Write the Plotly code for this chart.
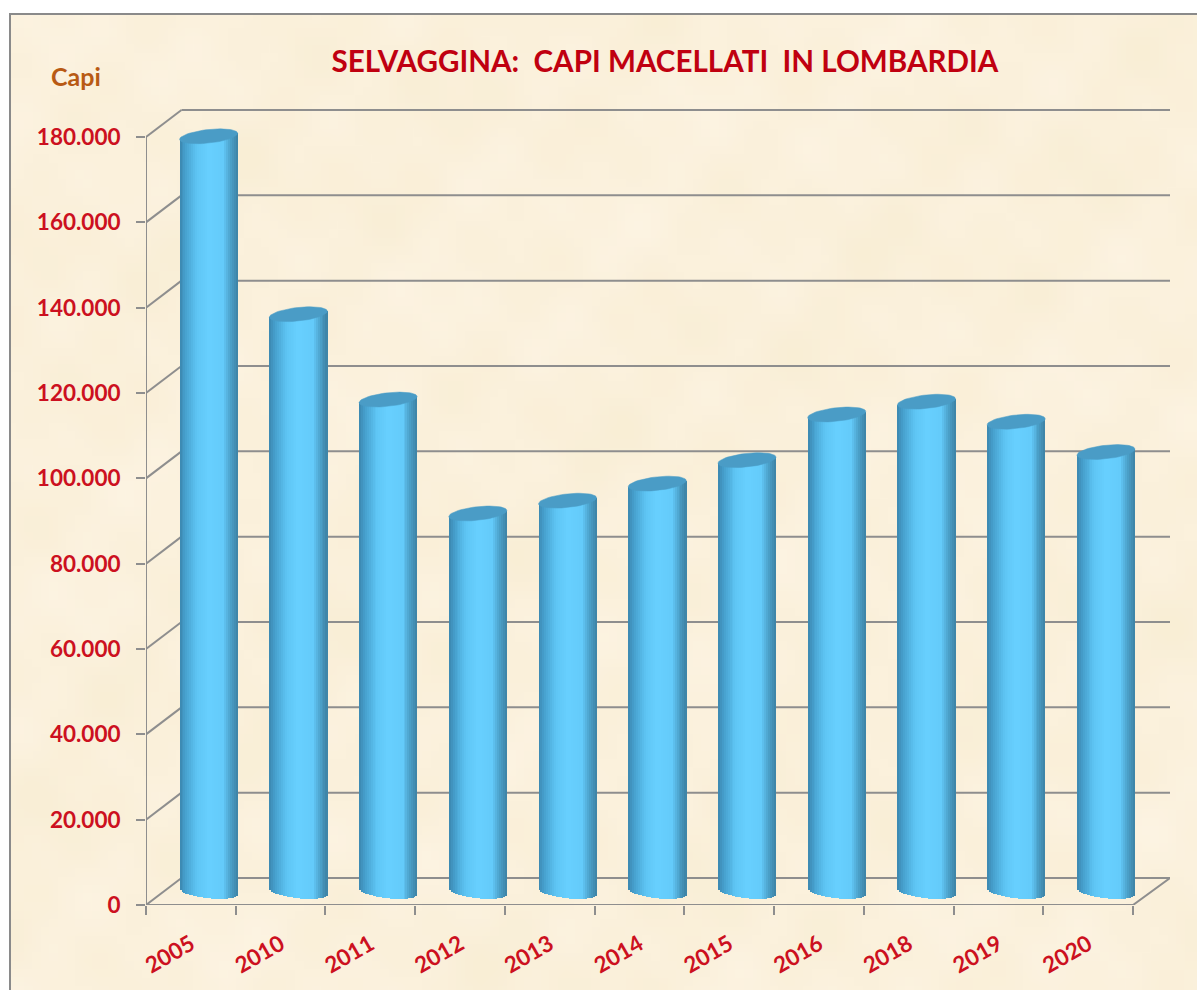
import base64
import math
import struct
import zlib
import plotly.graph_objects as go

years = ["2005", "2010", "2011", "2012", "2013", "2014", "2015", "2016", "2018", "2019", "2020"]
capi = [177000, 135300, 115300, 88600, 91600, 95600, 101100, 111800, 114800, 110100, 103000]
y_ticks = [0, 20000, 40000, 60000, 80000, 100000, 120000, 140000, 160000, 180000]
title_text = "SELVAGGINA:  CAPI MACELLATI  IN LOMBARDIA"
y_unit_text = "Capi"

W, H = 1197, 990
L, R, T, B = 146, 1170, 109, 905
slot_px = 89.73
unit_px = 768 / 180000
depth_x = 35.5 / slot_px
depth_y = 27 / unit_px
x_lo = -0.5
x_hi = x_lo + (R - L) / slot_px
y_hi = (B - T) / unit_px
front_hi = x_lo + len(years)

half_w = 29 / slot_px
ell_b = 6.8 / unit_px
ell_tilt = 3 / unit_px
shift_x = depth_x / 2
shift_y = depth_y / 2

GRID = "#8e8e8e"
stops = [(0.0, (60, 135, 175)), (0.1, (70, 160, 205)), (0.3, (95, 198, 245)), (0.5, (104, 208, 255)),
         (0.75, (100, 203, 250)), (0.88, (75, 160, 200)), (1.0, (62, 130, 165))]


def shade(t):
    for (a, ca), (b, cb) in zip(stops, stops[1:]):
        if t <= b:
            k = (t - a) / (b - a)
            return "rgb(%d,%d,%d)" % tuple(ca[i] + (cb[i] - ca[i]) * k for i in range(3))
    return "rgb(62,130,165)"


def px_x(p):
    return (p - L) / (R - L)


def px_y(p):
    return (B - p) / (B - T)


def parchment_uri(w=140, h=116):
    """Soft mottled paper background, built from a few sine waves and stretched by the browser."""
    rows = bytearray()
    for j in range(h):
        rows.append(0)
        for i in range(w):
            n = (math.sin(i * 0.31 + j * 0.17) + math.sin(i * 0.13 - j * 0.37 + 1.3)
                 + math.sin(i * 0.53 + j * 0.43 + 2.1) * 0.8 + math.sin(i * 0.07 + j * 0.11 + 0.4)
                 + math.sin(i * 0.71 - j * 0.59 + 0.9) * 0.6) / 4.4
            rows += bytes((int(251 + 2 * n), int(241 + 3 * n), int(220 + 7 * n)))

    def chunk(tag, data):
        return struct.pack(">I", len(data)) + tag + data + struct.pack(">I", zlib.crc32(tag + data))

    png = (b"\x89PNG\r\n\x1a\n" + chunk(b"IHDR", struct.pack(">IIBBBBB", w, h, 8, 2, 0, 0, 0))
           + chunk(b"IDAT", zlib.compress(bytes(rows))) + chunk(b"IEND", b""))
    return "data:image/png;base64," + base64.b64encode(png).decode()


fig = go.Figure()

line_style = dict(color=GRID, width=2)
shapes = [dict(type="rect", xref="paper", yref="paper", layer="below",
               x0=px_x(10), x1=px_x(W + 10), y0=px_y(14), y1=px_y(H + 10),
               fillcolor="rgba(0,0,0,0)", line=dict(color="#8a8a8a", width=2))]

for v in y_ticks:
    shapes.append(dict(type="line", xref="x", yref="y", layer="below", x0=x_lo, y0=v,
                       x1=x_lo + depth_x, y1=v + depth_y, line=line_style))
    shapes.append(dict(type="line", xref="x", yref="y", layer="below", x0=x_lo + depth_x, y0=v + depth_y,
                       x1=x_hi, y1=v + depth_y, line=line_style))

# front edges of the box, drawn unclipped
fig.add_trace(go.Scatter(x=[x_lo, x_lo, front_hi, x_hi], y=[y_ticks[-1], 0, 0, depth_y], mode="lines",
                         line=line_style, cliponaxis=False, hoverinfo="skip", showlegend=False))

# cylinder bodies as narrow shaded bars
xs = [i + shift_x for i in range(len(years))]
N = 30
sw = 2 * half_w / N
for k in range(N):
    t = (k + 0.5) / N
    u = 2 * t - 1
    drop = ell_b * math.sqrt(max(0, 1 - u * u)) + ell_tilt * u
    base = shift_y - drop
    fig.add_trace(go.Bar(x=xs, y=[v + shift_y + ell_tilt * u - base for v in capi], base=base,
                         offset=-half_w + k * sw, width=sw * 1.15,
                         marker=dict(color=shade(t), line=dict(width=0)),
                         hoverinfo="skip", showlegend=False))

# cylinder tops
angles = [2 * math.pi * j / 60 for j in range(61)]
for cx, v in zip(xs, capi):
    fig.add_trace(go.Scatter(
        x=[cx + half_w * math.cos(a) for a in angles],
        y=[v + shift_y + ell_b * math.sin(a) + ell_tilt * math.cos(a) for a in angles],
        mode="lines", fill="toself", fillcolor="#4a9cc6", line=dict(color="#4a9cc6", width=0.5),
        hoverinfo="skip", showlegend=False))

# invisible trace carrying the boundary tick axis
fig.add_trace(go.Scatter(x=[x_lo], y=[0], xaxis="x2", mode="none", hoverinfo="skip", showlegend=False))

fig.update_layout(
    width=W, height=H, autosize=False,
    margin=dict(l=L, r=W - R, t=T, b=H - B, pad=0),
    paper_bgcolor="white", plot_bgcolor="rgba(0,0,0,0)",
    barmode="overlay", bargap=0, showlegend=False, separators=",.",
    font=dict(family="Lato"),
    title=dict(text=title_text, x=665 / W, xanchor="center", y=1 - 62 / H, yanchor="middle",
               font=dict(family="Lato", size=29.6, color="#c00010", weight="bold")),
    xaxis=dict(range=[x_lo, x_hi], tickmode="array", tickvals=list(range(len(years))), ticktext=years,
               tickangle=-30, ticks="", showgrid=False, zeroline=False, showline=False,
               tickfont=dict(family="Lato", size=22.5, color="#cc1020", weight="bold"), ticklabelstandoff=21),
    xaxis2=dict(range=[x_lo, x_hi], overlaying="x", anchor="y", side="bottom", tickmode="array",
                tickvals=[x_lo + i for i in range(len(years) + 1)], ticktext=[""] * (len(years) + 1),
                ticks="outside", ticklen=9, tickwidth=2, tickcolor=GRID,
                showgrid=False, zeroline=False, showline=False),
    yaxis=dict(range=[0, y_hi], tickmode="array", tickvals=y_ticks, tickformat=",d",
               ticks="outside", ticklen=9, tickwidth=2, tickcolor=GRID, showgrid=False, zeroline=False,
               showline=False, ticklabelstandoff=11,
               tickfont=dict(family="Lato", size=22.5, color="#cc1020", weight="bold")),
    images=[dict(source=parchment_uri(), xref="paper", yref="paper", x=px_x(11), y=px_y(15),
                 sizex=(W - 11) / (R - L), sizey=(H - 15) / (B - T), sizing="stretch",
                 xanchor="left", yanchor="top", layer="below")],
    shapes=shapes,
    annotations=[dict(text=y_unit_text, xref="paper", yref="paper", x=px_x(76), y=px_y(76),
                      xanchor="center", yanchor="middle", showarrow=False,
                      font=dict(family="Lato", size=25, color="#b85a14", weight="bold"))],
)

fig.write_html("out.html", config=dict(displayModeBar=False),
               post_script="document.body.style.margin='0';document.body.style.overflow='hidden';")
